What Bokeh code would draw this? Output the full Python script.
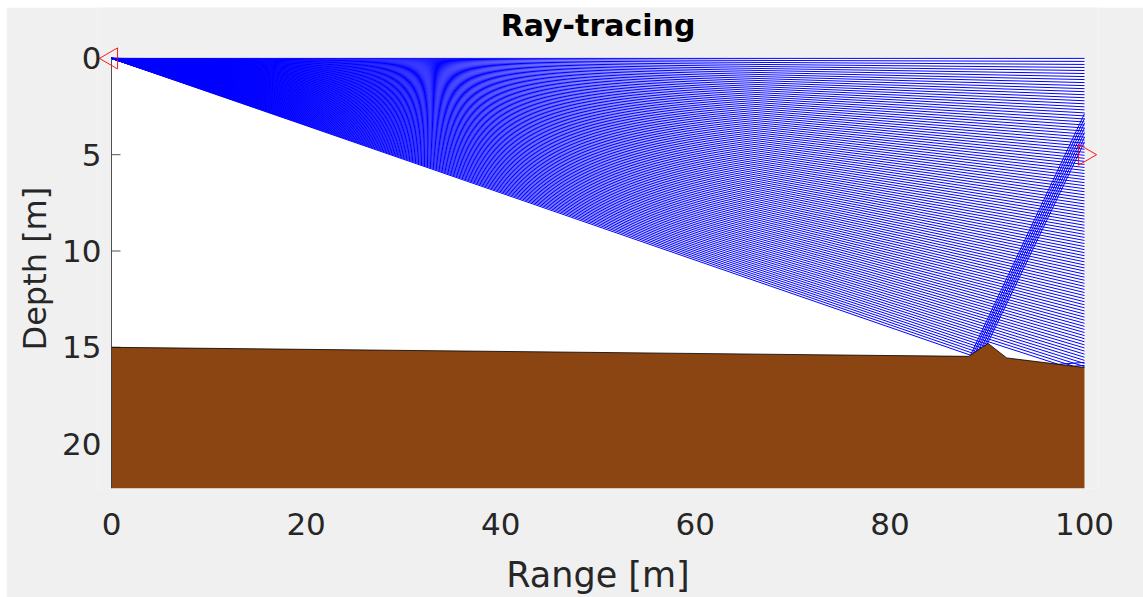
import numpy as np
from bokeh.plotting import figure
from bokeh.models import Range1d, FixedTicker, BoxAnnotation, Label, Title
from bokeh.embed import file_html
from bokeh.resources import INLINE

# ---------------- data ----------------
title_text = "Ray-tracing"
x_label = "Range [m]"
y_label = "Depth [m]"
x_ticks = [0, 20, 40, 60, 80, 100]
y_ticks = [0, 5, 10, 15, 20]
x_limits = [0, 100]
y_limits = [0, 22.33]

# bathymetry (range [m], depth [m])
bathy_range = [0.0, 88.1, 90.1, 92.0, 100.0]
bathy_depth = [15.0, 15.47, 14.8, 15.55, 16.05]

# source / receiver
source_range = [0.0]
source_depth = [0.0]
receiver_range = [100.0]
receiver_depth = [5.0]

# launch angles of the traced rays [deg], positive = downward
launch_angles_deg = [
    0.00, 0.09, 0.18, 0.27, 0.36, 0.45, 0.54, 0.63, 0.72, 0.81,
    0.90, 0.99, 1.08, 1.17, 1.26, 1.35, 1.44, 1.53, 1.62, 1.71,
    1.80, 1.89, 1.98, 2.07, 2.16, 2.25, 2.34, 2.43, 2.52, 2.61,
    2.70, 2.79, 2.88, 2.97, 3.06, 3.15, 3.24, 3.33, 3.42, 3.51,
    3.60, 3.69, 3.78, 3.87, 3.96, 4.05, 4.14, 4.23, 4.32, 4.41,
    4.50, 4.59, 4.68, 4.77, 4.86, 4.95, 5.04, 5.13, 5.22, 5.31,
    5.40, 5.49, 5.58, 5.67, 5.76, 5.85, 5.94, 6.03, 6.12, 6.21,
    6.30, 6.39, 6.48, 6.57, 6.66, 6.75, 6.84, 6.93, 7.02, 7.11,
    7.20, 7.29, 7.38, 7.47, 7.56, 7.65, 7.74, 7.83, 7.92, 8.01,
    8.10, 8.19, 8.28, 8.37, 8.46, 8.55, 8.64, 8.73, 8.82, 8.91,
    9.00, 9.09, 9.18, 9.27, 9.36, 9.45, 9.54, 9.63, 9.72, 9.81,
    9.90,
]

# ---------------- simple straight-ray tracer (isovelocity) ----------------
bx = np.array(bathy_range, float)
bz = np.array(bathy_depth, float)
x_min, x_max = x_limits


def cross(u, v):
    return u[0] * v[1] - u[1] * v[0]


def trace(angle_deg, max_bounces=8):
    th = np.radians(angle_deg)
    pos = np.array([source_range[0], source_depth[0]], float)
    d = np.array([np.cos(th), np.sin(th)])
    px, pz = [pos[0]], [pos[1]]
    for _ in range(max_bounces + 1):
        t_best, normal, stop = np.inf, None, False
        if d[0] > 1e-12:
            t = (x_max - pos[0]) / d[0]
            if t < t_best:
                t_best, normal, stop = t, None, True
        elif d[0] < -1e-12:
            t = (x_min - pos[0]) / d[0]
            if t < t_best:
                t_best, normal, stop = t, None, True
        if d[1] < -1e-12:
            t = -pos[1] / d[1]
            if 1e-9 < t < t_best:
                t_best, normal, stop = t, np.array([0.0, 1.0]), False
        for i in range(len(bx) - 1):
            a = np.array([bx[i], bz[i]])
            e = np.array([bx[i + 1] - bx[i], bz[i + 1] - bz[i]])
            den = cross(d, e)
            if abs(den) < 1e-12:
                continue
            w = a - pos
            t = cross(w, e) / den
            s = cross(w, d) / den
            if 1e-9 < t < t_best and -1e-9 <= s <= 1 + 1e-9:
                n = np.array([-e[1], e[0]])
                n = n / np.linalg.norm(n)
                t_best, normal, stop = t, n, False
        pos = pos + t_best * d
        px.append(pos[0])
        pz.append(pos[1])
        if stop or normal is None:
            break
        d = d - 2 * np.dot(d, normal) * normal
    return px, pz


ray_xs, ray_zs = [], []
for ang in launch_angles_deg:
    rx, rz = trace(ang)
    ray_xs.append(rx)
    ray_zs.append(rz)

# ---------------- layout (pixels on the page) ----------------
FONT = "DejaVu Sans"
TXT = "#262626"
FIG_L, FIG_T, FIG_W, FIG_H = 6, 7, 1137, 590
DATA_L, DATA_R, DATA_T, DATA_B = 111, 1084, 58, 489   # axes box
PAD_L, PAD_R = 14, 14                                  # room for markers
TITLE_MID = 25.5
YLABEL_START = 138      # px above the axes bottom where "Depth [m]" starts
TICK_LEN = 9

sx = (DATA_R - DATA_L) / (x_limits[1] - x_limits[0])   # px per m (range)
sz = (DATA_B - DATA_T) / (y_limits[1] - y_limits[0])   # px per m (depth)
frame_left = DATA_L - PAD_L
frame_right = DATA_R + PAD_R
frame_top = FIG_T

p = figure(
    width=FIG_W, height=FIG_H,
    x_range=Range1d(x_limits[0] - PAD_L / sx, x_limits[1] + PAD_R / sx),
    y_range=Range1d(y_limits[1], y_limits[0] - (DATA_T - frame_top) / sz),
    output_backend="svg", toolbar_location=None,
    min_border_left=frame_left - FIG_L,
    min_border_right=FIG_L + FIG_W - frame_right,
    min_border_top=0,
    min_border_bottom=FIG_T + FIG_H - DATA_B,
    margin=(FIG_T, 0, 0, FIG_L),
)
p.background_fill_color = "#f0f0f0"
p.border_fill_color = "#f0f0f0"
p.outline_line_color = None
p.xgrid.visible = False
p.ygrid.visible = False

# white axes area
p.add_layout(BoxAnnotation(left=x_limits[0], right=x_limits[1],
                           top=y_limits[0], bottom=y_limits[1],
                           fill_color="white", fill_alpha=1.0,
                           line_color=None, level="underlay"))

# title
p.add_layout(Label(x=(x_limits[0] + x_limits[1]) / 2,
                   y=y_limits[0] - (DATA_T - TITLE_MID) / sz,
                   text=title_text, text_align="center", text_baseline="middle",
                   text_font=FONT, text_font_size="30px", text_font_style="bold",
                   text_color="black"))

# x axis
p.xaxis.ticker = FixedTicker(ticks=x_ticks)
p.xaxis.bounds = (x_limits[0], x_limits[1])
p.xaxis.axis_line_color = None
p.xaxis.major_tick_in = 0
p.xaxis.major_tick_out = 0
p.xaxis.minor_tick_line_color = None
p.xaxis.major_label_text_font = FONT
p.xaxis.major_label_text_font_size = "31px"
p.xaxis.major_label_text_color = TXT
p.xaxis.major_label_standoff = 24
p.xaxis.axis_label = x_label
p.xaxis.axis_label_text_font = FONT
p.xaxis.axis_label_text_font_size = "35px"
p.xaxis.axis_label_text_font_style = "normal"
p.xaxis.axis_label_text_color = TXT
p.xaxis.axis_label_standoff = 17

# y axis (tick labels only; line and ticks drawn at the axes box edge)
p.yaxis.ticker = FixedTicker(ticks=y_ticks)
p.yaxis.bounds = (y_limits[0], y_limits[1])
p.yaxis.axis_line_color = None
p.yaxis.major_tick_in = 0
p.yaxis.major_tick_out = 0
p.yaxis.minor_tick_line_color = None
p.yaxis.major_label_text_font = FONT
p.yaxis.major_label_text_font_size = "31px"
p.yaxis.major_label_text_color = TXT
p.yaxis.major_label_standoff = -4

# y axis label, placed along the axes box (not the padded frame)
p.add_layout(Title(text=y_label, align="left", offset=YLABEL_START, standoff=11,
                   text_font=FONT, text_font_size="32px", text_font_style="normal",
                   text_color=TXT), "left")

# inward y ticks (under the data, like MATLAB's bottom layer)
p.segment(x0=[x_limits[0]] * len(y_ticks), y0=y_ticks,
          x1=[x_limits[0] + TICK_LEN / sx] * len(y_ticks), y1=y_ticks,
          line_color=TXT, line_width=0.8)

# rays
p.multi_line(xs=ray_xs, ys=ray_zs, line_color="#0000ff", line_width=1.0)

# seabed
p.varea(x=bathy_range, y1=bathy_depth, y2=[y_limits[1]] * len(bathy_range),
        fill_color="#8B4513")
p.line(x=bathy_range, y=bathy_depth, line_color="black", line_width=0.8)

# y axis line
p.segment(x0=[x_limits[0]], y0=[y_limits[0]], x1=[x_limits[0]], y1=[y_limits[1]],
          line_color=TXT, line_width=0.8)

# source and receiver markers
p.scatter(x=source_range, y=source_depth, marker="triangle", size=21,
          angle=np.pi / 2, fill_color=None, line_color="#ff0000", line_width=0.9)
p.scatter(x=receiver_range, y=receiver_depth, marker="triangle", size=21,
          angle=-np.pi / 2, fill_color=None, line_color="#ff0000", line_width=0.9)

open("out.html", "w").write(file_html(p, INLINE))
